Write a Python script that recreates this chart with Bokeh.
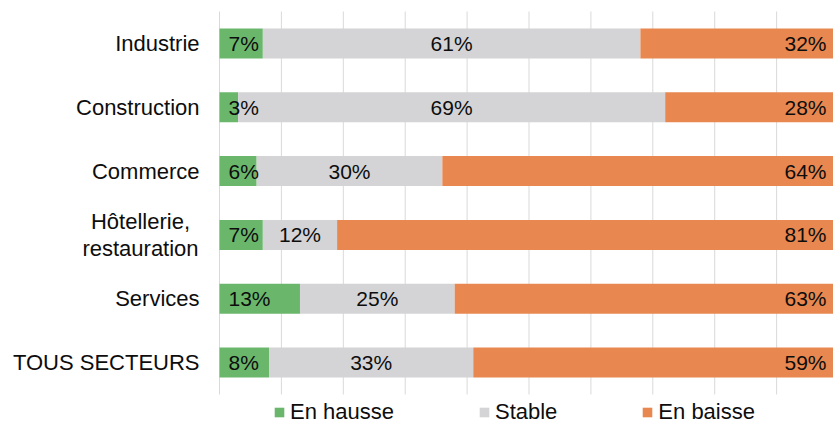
from bokeh.plotting import figure
from bokeh.models import ColumnDataSource, Legend, LegendItem, Range1d
from bokeh.core.properties import value, field
from bokeh.embed import file_html
from bokeh.resources import INLINE

categories = ["Industrie", "Construction", "Commerce", "Hôtellerie,\nrestauration", "Services", "TOUS SECTEURS"]
hausse = [7, 3, 6, 7, 13, 8]
stable = [61, 69, 30, 12, 25, 33]
baisse = [32, 28, 64, 81, 63, 59]
series_names = ["En hausse", "Stable", "En baisse"]
grid_ticks = [0, 10, 20, 30, 40, 50, 60, 70, 80, 90]
colors = ["#6AB76C", "#D4D4D6", "#E8874F"]

FONT = "Liberation Sans"
n = len(categories)

end1 = list(hausse)
end2 = [a + b for a, b in zip(hausse, stable)]
end3 = [a + b + c for a, b, c in zip(hausse, stable, baisse)]

src = ColumnDataSource(dict(
    cat=categories,
    y=list(range(n)),
    zero=[0] * n,
    end1=end1, end2=end2, end3=end3,
    mid2=[(a + b) / 2 for a, b in zip(end1, end2)],
    lab_end=[min(e, 100) for e in end3],
    t1=[f"{v}%" for v in hausse],
    t2=[f"{v}%" for v in stable],
    t3=[f"{v}%" for v in baisse],
    cat_align=["center" if "\n" in c else "right" for c in categories],
    cat_xoff=[-79 if "\n" in c else -20 for c in categories],
))

# plot frame covers whole canvas; ranges chosen so the bar area sits at the reference position
p = figure(width=833, height=423,
           x_range=Range1d(-35.38, 99.19),
           y_range=Range1d(n - 0.5 + 29 / 63.83, -0.5 - 11 / 63.83),
           output_backend="svg", toolbar_location=None,
           min_border_left=0, min_border_right=0, min_border_top=0, min_border_bottom=0)
p.outline_line_color = None
p.xaxis.visible = False
p.yaxis.visible = False
p.grid.visible = False

# vertical gridlines spanning the category band
p.segment(x0=grid_ticks, x1=grid_ticks, y0=[-0.5] * len(grid_ticks), y1=[n - 0.5] * len(grid_ticks),
          line_color="#D9D9D9", line_width=1)

H = 0.47
r1 = p.hbar(y="y", left="zero", right="end1", height=H, fill_color=colors[0], source=src, line_color=None)
r2 = p.hbar(y="y", left="end1", right="end2", height=H, fill_color=colors[1], source=src, line_color=None)
r3 = p.hbar(y="y", left="end2", right="end3", height=H, fill_color=colors[2], source=src, line_color=None)

common = dict(source=src, text_font=value(FONT), text_font_size="21px",
              text_baseline="middle", text_color="#0D0D0D")
p.text(x="zero", y="y", text="t1", text_align="left", x_offset=9, **common)
p.text(x="mid2", y="y", text="t2", text_align="center", **common)
p.text(x="lab_end", y="y", text="t3", text_align="right", x_offset=-12, **common)

# category labels
p.text(x="zero", y="y", text="cat", source=src, text_align=field("cat_align"), x_offset=field("cat_xoff"),
       text_baseline="middle", text_line_height=1.1,
       text_font=value(FONT), text_font_size="22px", text_color="#0D0D0D")

legend = Legend(items=[LegendItem(label=nm, renderers=[r]) for nm, r in zip(series_names, [r1, r2, r3])],
                orientation="horizontal", location=(273, -2),
                glyph_width=12, glyph_height=12, label_standoff=5, spacing=84,
                padding=0, margin=0, border_line_color=None, background_fill_alpha=0,
                label_text_font=FONT, label_text_font_size="22px", label_text_color="#0D0D0D")
p.add_layout(legend, "center")

open("out.html", "w").write(file_html(p, INLINE))
